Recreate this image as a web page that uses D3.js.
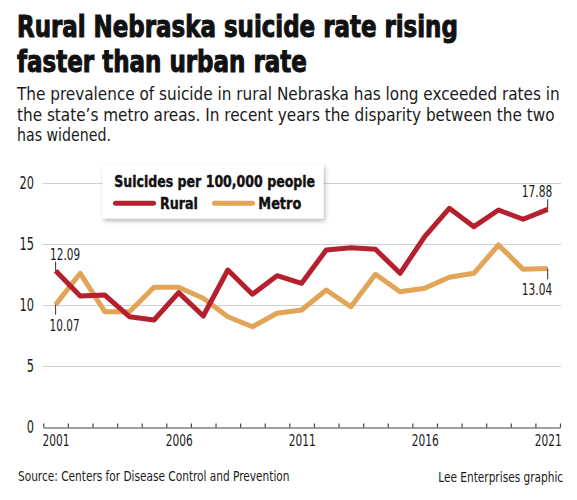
<!DOCTYPE html>
<html>
<head>
<meta charset="utf-8">
<script src="https://cdn.jsdelivr.net/npm/d3@7"></script>
<style>
  html, body { margin: 0; padding: 0; background: #fff; }
  svg { display: block; }
  text { font-family: "Liberation Sans Narrow", "DejaVu Sans Condensed", "Roboto", sans-serif; fill: #1a1a1a; }
</style>
</head>
<body>
<svg id="chart" width="577" height="500"></svg>
<script>
// ---- data ----
const years = d3.range(2001, 2022);
const rural = [12.85, 10.78, 10.86, 9.08, 8.81, 11.05, 9.14, 12.91, 10.92, 12.44, 11.82,
               14.55, 14.74, 14.61, 12.64, 15.64, 17.97, 16.46, 17.83, 17.07, 17.88];
const metro = [10.07, 12.64, 9.49, 9.49, 11.49, 11.49, 10.59, 9.08, 8.26, 9.36, 9.63,
               11.27, 9.9, 12.56, 11.13, 11.41, 12.31, 12.64, 14.96, 12.97, 13.04];
const yTicks = [0, 5, 10, 15, 20];
const xLabelYears = [2001, 2006, 2011, 2016, 2021];
const seriesNames = ["Rural", "Metro"];
const titleLines = ["Rural Nebraska suicide rate rising", "faster than urban rate"];
const subtitleLines = [
  "The prevalence of suicide in rural Nebraska has long exceeded rates in",
  "the state\u2019s metro areas. In recent years the disparity between the two",
  "has widened."
];
const legendTitle = "Suicides per 100,000 people";
const sourceText = "Source: Centers for Disease Control and Prevention";
const creditText = "Lee Enterprises graphic";
const startLabels = ["12.09", "10.07"];
const endLabels = ["17.88", "13.04"];

// ---- styles ----
const colors = { Rural: "#b5202f", Metro: "#e2a457" };

const svg = d3.select("#chart");
const defs = svg.append("defs");
const f = defs.append("filter").attr("id", "shadow").attr("x", "-10%").attr("y", "-20%").attr("width", "130%").attr("height", "160%");
f.append("feDropShadow").attr("dx", 1.5).attr("dy", 2.5).attr("stdDeviation", 2.2).attr("flood-color", "#000").attr("flood-opacity", 0.28);

// place a text at (x,y) and squeeze it horizontally to a target width
function fitText(parent, str, x, y, targetW, size, opts = {}) {
  const t = parent.append("text").text(str)
    .attr("font-size", size)
    .attr("text-anchor", opts.anchor || "start");
  if (opts.bold) t.attr("font-weight", 700);
  if (opts.stroke) t.attr("stroke", "#111").attr("stroke-width", opts.stroke).style("fill", "#111");
  const w = t.node().getComputedTextLength();
  t.attr("transform", `translate(${x},${y}) scale(${targetW / w},1)`);
  return t;
}

// ---- title / subtitle ----
const titleBase = [36.5, 72];
const titleLen = [441, 290];
titleLines.forEach((t, i) => fitText(svg, t, 17, titleBase[i], titleLen[i], 29.5, { bold: true, stroke: 1 }));
const subBase = [100, 120.5, 141];
const subLen = [543, 538, 94];
subtitleLines.forEach((t, i) => fitText(svg, t, 17, subBase[i], subLen[i], 18));

// ---- scales ----
const x = d3.scaleLinear().domain([2000.5, 2021.5]).range([43.3, 560]);
const y = d3.scaleLinear().domain([0, 20]).range([427.5, 183.5]);

// gridlines
svg.append("g").selectAll("line").data(yTicks.filter(d => d > 0)).join("line")
  .attr("x1", 43).attr("x2", 561)
  .attr("y1", d => y(d)).attr("y2", d => y(d))
  .attr("stroke", "#cfcfcf").attr("stroke-width", 1);

// y axis labels
const yAxis = svg.append("g").attr("transform", "translate(34,0)")
  .call(d3.axisLeft(y).tickValues(yTicks).tickSize(0).tickPadding(0));
yAxis.select(".domain").remove();
yAxis.selectAll("text").attr("font-size", 17).style("font-family", null).attr("fill", "#1a1a1a");
{
  const nodes = yAxis.selectAll("text").nodes();
  const ref = nodes.find(n => n.textContent === "20");
  const sx = 14.5 / ref.getComputedTextLength();
  yAxis.selectAll("text").attr("transform", `scale(${sx},1)`);
}

// x axis: ticks at year boundaries
const xTickAxis = svg.append("g").attr("transform", `translate(0,${y(0)})`)
  .call(d3.axisBottom(x).tickValues(d3.range(2000.5, 2022, 1)).tickSizeInner(-4).tickSizeOuter(0).tickFormat(""));
xTickAxis.select(".domain").attr("stroke", "#444").attr("stroke-width", 1.2);
xTickAxis.selectAll(".tick line").attr("stroke", "#444").attr("stroke-width", 1.2);

const xLabelAxis = svg.append("g").attr("transform", `translate(0,${y(0)})`)
  .call(d3.axisBottom(x).tickValues(xLabelYears).tickSize(0).tickPadding(8).tickFormat(d3.format("d")));
xLabelAxis.select(".domain").remove();
xLabelAxis.selectAll("text").attr("font-size", 15.5).style("font-family", null).attr("fill", "#1a1a1a");
{
  const n = xLabelAxis.select("text").node();
  const sx = 27 / n.getComputedTextLength();
  xLabelAxis.selectAll("text").attr("transform", `scale(${sx},1)`);
}

// ---- lines ----
const line = d3.line().x((d, i) => x(years[i])).y(d => y(d));
[["Metro", metro], ["Rural", rural]].forEach(([name, vals]) => {
  svg.append("path").datum(vals)
    .attr("d", line)
    .attr("fill", "none")
    .attr("stroke", colors[name])
    .attr("stroke-width", 5)
    .attr("stroke-linejoin", "round")
    .attr("stroke-linecap", "butt");
});

// ---- start / end annotations ----
const ann = svg.append("g");
const first = years[0], last = years[years.length - 1];
const rL = rural[rural.length - 1], mL = metro[metro.length - 1];
function tick(xp, y1, y2) {
  ann.append("line").attr("x1", xp).attr("x2", xp).attr("y1", y1).attr("y2", y2)
    .attr("stroke", "#333").attr("stroke-width", 1);
}
tick(x(first), y(rural[0]) - 9, y(rural[0]));
fitText(ann, startLabels[0], x(first) - 5.5, y(rural[0]) - 10.5, 30, 15.5);
tick(x(first), y(metro[0]), y(metro[0]) + 10);
fitText(ann, startLabels[1], x(first) - 6, y(metro[0]) + 26, 30, 15.5);
tick(x(last), y(rL) - 10, y(rL));
fitText(ann, endLabels[0], x(last) + 4.5, y(rL) - 12.5, 30.5, 15.5, { anchor: "end" });
tick(x(last), y(mL), y(mL) + 11);
fitText(ann, endLabels[1], x(last) + 4.5, y(mL) + 27, 30.5, 15.5, { anchor: "end" });

// ---- legend ----
const lg = svg.append("g");
lg.append("rect").attr("x", 102.5).attr("y", 164.5).attr("width", 221).attr("height", 54)
  .attr("fill", "#fff").attr("filter", "url(#shadow)");
fitText(lg, legendTitle, 114.3, 186.5, 201, 16.5, { bold: true, stroke: 0.4 });
const legendItems = [
  { name: seriesNames[0], x1: 115.5, x2: 153.5, tx: 160, tl: 38 },
  { name: seriesNames[1], x1: 214.5, x2: 252.5, tx: 258.3, tl: 43 }
];
legendItems.forEach(it => {
  lg.append("line").attr("x1", it.x1).attr("x2", it.x2).attr("y1", 203.3).attr("y2", 203.3)
    .attr("stroke", colors[it.name]).attr("stroke-width", 5).attr("stroke-linecap", "round");
  fitText(lg, it.name, it.tx, 208.5, it.tl, 16.5, { bold: true, stroke: 0.4 });
});

// ---- footer ----
fitText(svg, sourceText, 18, 480.5, 272, 14);
fitText(svg, creditText, 438.3, 481.5, 125, 14);
</script>
</body>
</html>
